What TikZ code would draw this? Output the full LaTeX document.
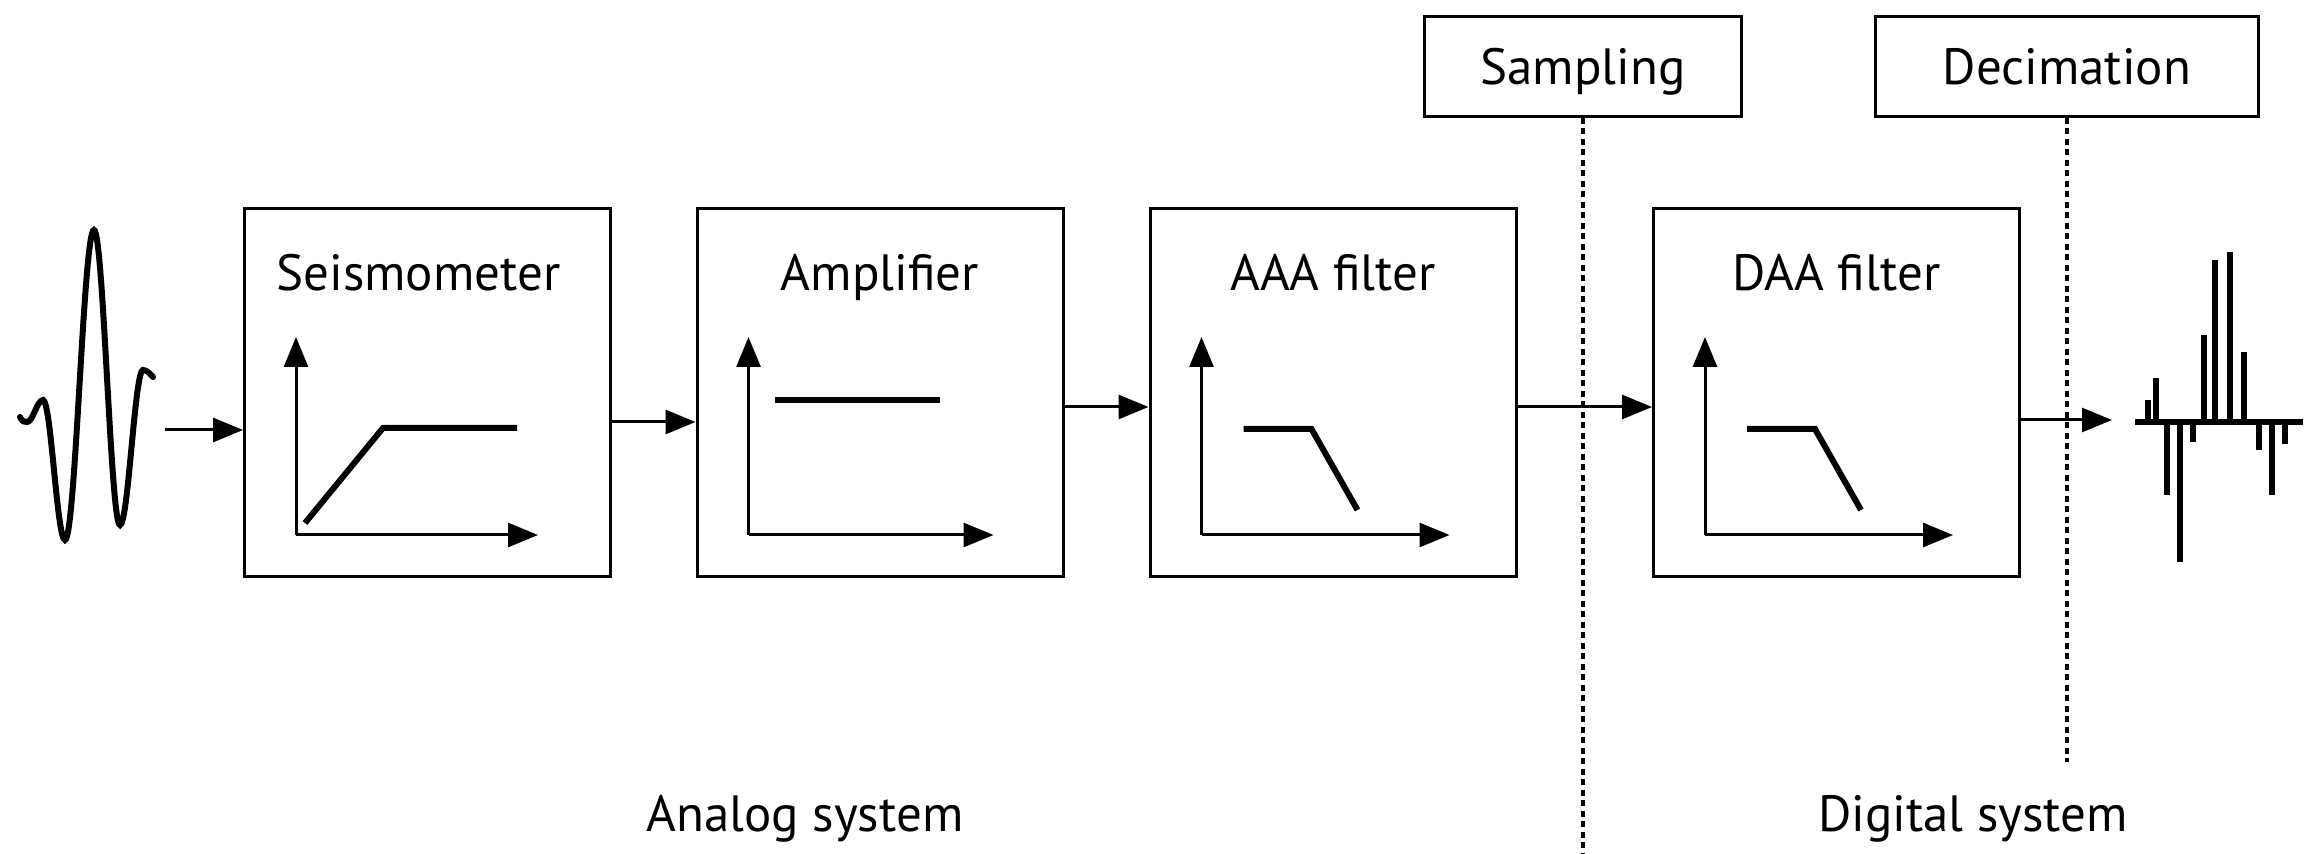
\documentclass[tikz,border=0pt]{standalone}
\usepackage{fontspec}
\setmainfont{PT Sans}
\usetikzlibrary{arrows.meta}

\begin{document}
\begin{tikzpicture}[
    >={Triangle[length=0.3cm,width=0.24cm]},
    stage/.style={draw,line width=0.03cm,minimum width=3.66cm,minimum height=3.68cm,inner sep=0pt},
    tag/.style={draw,line width=0.03cm,minimum height=1.0cm,inner sep=0pt,
      text height=0.37cm,text depth=0pt,font=\fontsize{14.5}{17}\selectfont},
    title/.style={anchor=base,inner sep=0pt,font=\fontsize{14.5}{17}\selectfont},
    flow/.style={->,line width=0.03cm},
    axis/.style={->,line width=0.03cm},
    resp/.style={line width=0.06cm},
    cut/.style={line width=0.035cm,dash pattern=on 0.06cm off 0.045cm}]
  \useasboundingbox (0,0) rectangle (23.05,8.54);

  % the four stages, same size, boxes at y 207..578 px
  \node[stage] (seis) at (4.275,4.615) {};
  \node[stage] (amp) at (8.80,4.615) {};
  \node[stage] (aaa) at (13.33,4.615) {};
  \node[stage] (daa) at (18.365,4.615) {};

  \node[title] (seis-t) at ([xshift=-0.09cm,yshift=-0.835cm]seis.north) {Seismometer};
  \node[title] (amp-t) at ([yshift=-0.835cm]amp.north) {Amplifier};
  \node[title] (aaa-t) at ([yshift=-0.835cm]aaa.north) {AAA filter};
  \node[title] (daa-t) at ([yshift=-0.835cm]daa.north) {DAA filter};

  % response sketches, origin 0.53 right and 0.43 up from the lower left corner
  \begin{scope}[shift={([xshift=0.53cm,yshift=0.43cm]seis.south west)}]
    \draw[axis] (0,0) -- (0,1.98);
    \draw[axis] (0,0) -- (2.42,0);
    \draw[resp] (0.09,0.12) -- (0.87,1.07) -- (2.21,1.07);
  \end{scope}
  \begin{scope}[shift={([xshift=0.53cm,yshift=0.43cm]amp.south west)}]
    \draw[axis] (0,0) -- (0,1.98);
    \draw[axis] (0,0) -- (2.45,0);
    \draw[resp] (0.26,1.35) -- (1.91,1.35);
  \end{scope}
  \begin{scope}[shift={([xshift=0.53cm,yshift=0.43cm]aaa.south west)}]
    \draw[axis] (0,0) -- (0,1.98);
    \draw[axis] (0,0) -- (2.48,0);
    \draw[resp] (0.42,1.06) -- (1.10,1.06) -- (1.56,0.25);
  \end{scope}
  \begin{scope}[shift={([xshift=0.53cm,yshift=0.43cm]daa.south west)}]
    \draw[axis] (0,0) -- (0,1.98);
    \draw[axis] (0,0) -- (2.48,0);
    \draw[resp] (0.42,1.06) -- (1.10,1.06) -- (1.56,0.25);
  \end{scope}

  % sampling and decimation marks
  \node[tag,minimum width=3.17cm] (samp) at (15.83,7.875) {Sampling};
  \node[tag,minimum width=3.83cm] (deci) at (20.67,7.875) {Decimation};
  \coordinate (samp-end) at (15.83,0);
  \coordinate (deci-end) at (20.67,0.92);
  \draw[cut] (samp.south) -- (samp-end);
  \draw[cut] (deci.south) -- (deci-end);

  % signal path
  \coordinate (in) at (1.65,4.24);
  \coordinate (out) at (21.12,4.34);
  \draw[flow] (in) -- (in -| seis.west);
  \draw[flow] ([yshift=-0.295cm]seis.east) -- ([yshift=-0.295cm]amp.west);
  \draw[flow] ([yshift=-0.145cm]amp.east) -- ([yshift=-0.145cm]aaa.west);
  \draw[flow] ([yshift=-0.145cm]aaa.east) -- ([yshift=-0.145cm]daa.west);
  \draw[flow] (out -| daa.east) -- (out);

  % input wavelet
  \draw[line width=0.06cm,line cap=round] (0.20,4.37)
    .. controls (0.22,4.32) and (0.25,4.32) .. (0.27,4.32)
    .. controls (0.33,4.32) and (0.37,4.54) .. (0.43,4.54)
    .. controls (0.51,4.54) and (0.57,3.14) .. (0.65,3.14)
    .. controls (0.755,3.14) and (0.835,6.24) .. (0.94,6.24)
    .. controls (1.034,6.24) and (1.106,3.29) .. (1.20,3.29)
    .. controls (1.283,3.29) and (1.347,4.84) .. (1.43,4.84)
    .. controls (1.47,4.84) and (1.50,4.80) .. (1.53,4.77);

  % output samples
  \draw[line width=0.06cm] (21.35,4.32) -- (23.03,4.32);
  \draw[line width=0.06cm]
    (21.48,4.32) -- (21.48,4.54)  (21.56,4.32) -- (21.56,4.76)
    (21.67,4.32) -- (21.67,3.59)  (21.80,4.32) -- (21.80,2.92)
    (21.93,4.32) -- (21.93,4.12)  (22.04,4.32) -- (22.04,5.19)
    (22.15,4.32) -- (22.15,5.94)  (22.30,4.32) -- (22.30,6.02)
    (22.44,4.32) -- (22.44,5.02)  (22.59,4.32) -- (22.59,4.04)
    (22.72,4.32) -- (22.72,3.59)  (22.85,4.32) -- (22.85,4.10);

  % bottom labels
  \node[title] (analog) at (8.05,0.22) {Analog system};
  \node[title] (digital) at (19.73,0.22) {Digital system};
\end{tikzpicture}
\end{document}
